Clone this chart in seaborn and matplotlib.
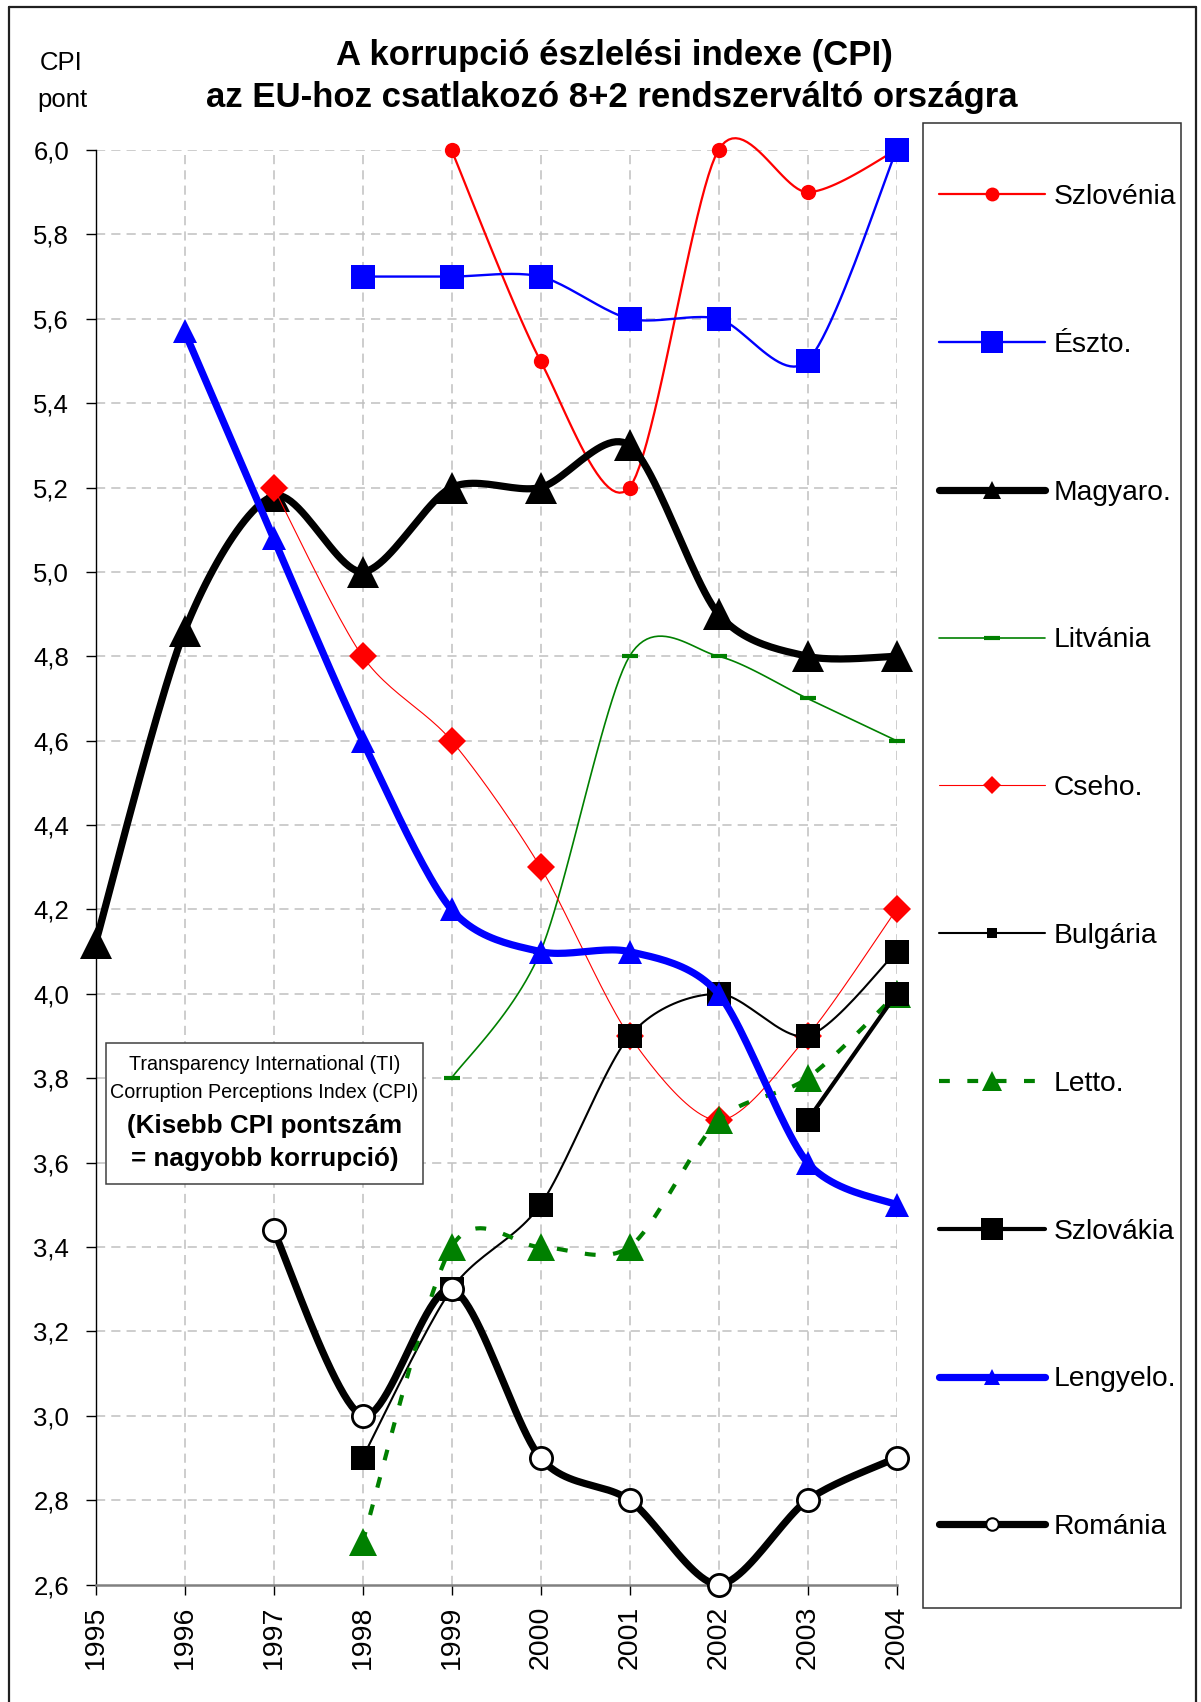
import numpy as np
import pandas as pd
import matplotlib
matplotlib.use("Agg")
import matplotlib.pyplot as plt
from matplotlib.lines import Line2D
from matplotlib.patches import Rectangle
import seaborn as sns

# ---------------- data ----------------
years = [1995, 1996, 1997, 1998, 1999, 2000, 2001, 2002, 2003, 2004]
N = None
szlovenia = [N, N, N, N, 6.0, 5.5, 5.2, 6.0, 5.9, 6.0]
eszto     = [N, N, N, 5.7, 5.7, 5.7, 5.6, 5.6, 5.5, 6.0]
magyar    = [4.12, 4.86, 5.18, 5.0, 5.2, 5.2, 5.3, 4.9, 4.8, 4.8]
litvania  = [N, N, N, N, 3.8, 4.1, 4.8, 4.8, 4.7, 4.6]
cseh      = [N, N, 5.2, 4.8, 4.6, 4.3, 3.9, 3.7, 3.9, 4.2]
bulgaria  = [N, N, N, 2.9, 3.3, 3.5, 3.9, 4.0, 3.9, 4.1]
letto     = [N, N, N, 2.7, 3.4, 3.4, 3.4, 3.7, 3.8, 4.0]
szlovakia = [N, N, N, N, N, N, N, N, 3.7, 4.0]
lengyel   = [N, 5.57, 5.08, 4.6, 4.2, 4.1, 4.1, 4.0, 3.6, 3.5]
romania   = [N, N, 3.44, 3.0, 3.3, 2.9, 2.8, 2.6, 2.8, 2.9]

labels = ["Szlovénia", "Észto.", "Magyaro.", "Litvánia", "Cseho.", "Bulgária",
          "Letto.", "Szlovákia", "Lengyelo.", "Románia"]
series = [szlovenia, eszto, magyar, litvania, cseh, bulgaria, letto, szlovakia, lengyel, romania]
yticks = [2.6, 2.8, 3.0, 3.2, 3.4, 3.6, 3.8, 4.0, 4.2, 4.4, 4.6, 4.8, 5.0, 5.2, 5.4, 5.6, 5.8, 6.0]
title_lines = ["A korrupció észlelési indexe (CPI)", "az EU-hoz csatlakozó 8+2 rendszerváltó országra"]
note_lines = ["Transparency International (TI)", "Corruption Perceptions Index (CPI)",
              "(Kisebb CPI pontszám", "= nagyobb korrupció)"]

# ---------------- styles ----------------
RED, BLUE, GREEN, BLACK = "#FF0000", "#0000FF", "#008000", "#000000"
styles = {
    "Szlovénia": dict(color=RED, lw=1.6, ls="-", marker="o", ms=11, mfc=RED, mec=RED, mew=0, lms=10),
    "Észto.":    dict(color=BLUE, lw=1.7, ls="-", marker="s", ms=17, mfc=BLUE, mec=BLUE, mew=0, lms=16),
    "Magyaro.":  dict(color=BLACK, lw=5.2, ls="-", marker="^", ms=23, mfc=BLACK, mec=BLACK, mew=0, lms=13),
    "Litvánia":  dict(color=GREEN, lw=1.2, ls="-", marker="_", ms=11, mfc=GREEN, mec=GREEN, mew=3, lms=11),
    "Cseho.":    dict(color=RED, lw=0.8, ls="-", marker="D", ms=14, mfc=RED, mec=RED, mew=0, lms=9),
    "Bulgária":  dict(color=BLACK, lw=1.5, ls="-", marker="s", ms=17, mfc=BLACK, mec=BLACK, mew=0, lms=7),
    "Letto.":    dict(color=GREEN, lw=3.0, ls=(0, (2.6, 4.2)), marker="^", ms=20, mfc=GREEN, mec=GREEN, mew=0, lms=14),
    "Szlovákia": dict(color=BLACK, lw=3.0, ls="-", marker="s", ms=17, mfc=BLACK, mec=BLACK, mew=0, lms=16),
    "Lengyelo.": dict(color=BLUE, lw=5.2, ls="-", marker="^", ms=17, mfc=BLUE, mec=BLUE, mew=0, lms=12),
    "Románia":   dict(color=BLACK, lw=5.2, ls="-", marker="o", ms=16, mfc="white", mec=BLACK, mew=2, lms=9),
}


def smooth(x, y, n=24, k=7.0):
    """Excel-like smoothed curve (cubic Bezier through the data points)."""
    pts = np.column_stack([x, y]).astype(float)
    if len(pts) < 3:
        return pts[:, 0], pts[:, 1]
    out = []
    for i in range(len(pts) - 1):
        p0 = pts[i - 1] if i > 0 else pts[i]
        p1, p2 = pts[i], pts[i + 1]
        p3 = pts[i + 2] if i + 2 < len(pts) else pts[i + 1]
        c1 = p1 + (p2 - p0) / k
        c2 = p2 - (p3 - p1) / k
        t = np.linspace(0, 1, n, endpoint=(i == len(pts) - 2))[:, None]
        b = (1 - t) ** 3 * p1 + 3 * (1 - t) ** 2 * t * c1 + 3 * (1 - t) * t ** 2 * c2 + t ** 3 * p2
        out.append(b)
    out = np.vstack(out)
    return out[:, 0], out[:, 1]


# ---------------- figure ----------------
sns.set_theme(style="white")
plt.rcParams["font.family"] = ["Liberation Sans", "DejaVu Sans"]
plt.rcParams["text.color"] = "black"
plt.rcParams["xtick.color"] = "black"
plt.rcParams["ytick.color"] = "black"
plt.rcParams["axes.labelcolor"] = "black"

W, H = 1201, 1702
fig = plt.figure(figsize=(W / 100, H / 100), dpi=100)
fig.patch.set_facecolor("white")


def fx(px):
    return px / W


def fy(py):
    return 1 - py / H


ax_l, ax_r, ax_t, ax_b = 95.5, 896.5, 150, 1584.5
ax = fig.add_axes([fx(ax_l), fy(ax_b), fx(ax_r) - fx(ax_l), fy(ax_t) - fy(ax_b)])
ax.set_facecolor("white")
ax.set_xlim(1995, 2004)
ax.set_ylim(2.6, 6.0)

# grid
for yv in yticks[1:]:
    ax.axhline(yv, color="#c0c0c0", lw=1.1, ls=(0, (6, 4)), zorder=0.5)
for xv in years[1:]:
    ax.axvline(xv, color="#c0c0c0", lw=1.1, ls=(0, (6, 4)), zorder=0.5)

for sp in ["top", "right"]:
    ax.spines[sp].set_visible(False)
ax.spines["left"].set_color("black")
ax.spines["left"].set_linewidth(1.0)
ax.spines["bottom"].set_color("#808080")
ax.spines["bottom"].set_linewidth(1.8)

ax.set_yticks(yticks)
ax.set_yticklabels([f"{v:.1f}".replace(".", ",") for v in yticks])
ax.set_xticks(years)
ax.set_xticklabels([str(y) for y in years], rotation=90)
ax.tick_params(axis="y", direction="out", length=7, width=1, colors="black", pad=12, labelsize=18.5,
               left=True)
ax.tick_params(axis="x", direction="out", length=7, width=1, colors="black", pad=8, labelsize=20.5,
               bottom=True)

handles = []
for k, (lab, vals) in enumerate(zip(labels, series)):
    st = styles[lab]
    xs = [yr for yr, v in zip(years, vals) if v is not None]
    ys = [v for v in vals if v is not None]
    sx, sy = smooth(xs, ys)
    df = pd.DataFrame({"x": sx, "y": sy})
    sns.lineplot(data=df, x="x", y="y", ax=ax, estimator=None, sort=False, color=st["color"],
                 lw=st["lw"], linestyle=st["ls"], zorder=2 + k, clip_on=False,
                 solid_capstyle="round", dash_capstyle="butt", legend=False)
    ax.plot(xs, ys, linestyle="none", marker=st["marker"], ms=st["ms"], mfc=st["mfc"],
            mec=st["mec"], mew=st["mew"], zorder=2.5 + k, clip_on=False)
    handles.append(Line2D([], [], color=st["color"], lw=st["lw"], linestyle=st["ls"],
                          marker=st["marker"], ms=st["lms"], mfc=st["mfc"], mec=st["mec"],
                          mew=st["mew"] if lab != "Románia" else 1.5, solid_capstyle="round"))
ax.set_xlim(1995, 2004)
ax.set_ylim(2.6, 6.0)
ax.set_xlabel("")
ax.set_ylabel("")

# note box
bx0, by0, bx1, by1 = 106, 1043, 423, 1184
fig.patches.append(Rectangle((fx(bx0), fy(by1)), fx(bx1) - fx(bx0), fy(by0) - fy(by1),
                             transform=fig.transFigure, facecolor="white", edgecolor="#404040",
                             lw=1.1, zorder=20))
cx = (bx0 + bx1) / 2
fig.text(fx(cx), fy(1065), note_lines[0], ha="center", va="center", fontsize=14.2, zorder=21)
fig.text(fx(cx), fy(1092), note_lines[1], ha="center", va="center", fontsize=14.2, zorder=21)
fig.text(fx(cx), fy(1126), note_lines[2], ha="center", va="center", fontsize=18.7, fontweight="bold", zorder=21)
fig.text(fx(cx), fy(1159), note_lines[3], ha="center", va="center", fontsize=18.7, fontweight="bold", zorder=21)

# titles
fig.text(fx(614), fy(55), title_lines[0], ha="center", va="center", fontsize=25, fontweight="bold")
fig.text(fx(612), fy(97), title_lines[1], ha="center", va="center", fontsize=25, fontweight="bold")
fig.text(fx(61), fy(63), "CPI", ha="center", va="center", fontsize=18.5)
fig.text(fx(62), fy(100), "pont", ha="center", va="center", fontsize=18.5)

# legend frame
lx0, ly0, lx1, ly1 = 923, 123, 1181, 1608
fig.patches.append(Rectangle((fx(lx0), fy(ly1)), fx(lx1) - fx(lx0), fy(ly0) - fy(ly1),
                             transform=fig.transFigure, facecolor="white", edgecolor="#303030",
                             lw=1.1, zorder=1))
leg = fig.legend(handles, labels, loc="upper left", bbox_to_anchor=(fx(939), fy(184)),
                 frameon=False, borderpad=0, borderaxespad=0, fontsize=20.3,
                 handlelength=3.75, handletextpad=0.3, labelspacing=4.32, numpoints=1)
leg.set_zorder(5)

# outer frame
for (xa, ya, xb, yb) in [(9, 7, 1196, 7), (9, 7, 9, 1702), (1196, 7, 1196, 1702)]:
    fig.add_artist(Line2D([fx(xa), fx(xb)], [fy(ya), fy(yb)], transform=fig.transFigure,
                          color="#202020", lw=1.6))

fig.savefig("out.png", dpi=100, facecolor="white")
